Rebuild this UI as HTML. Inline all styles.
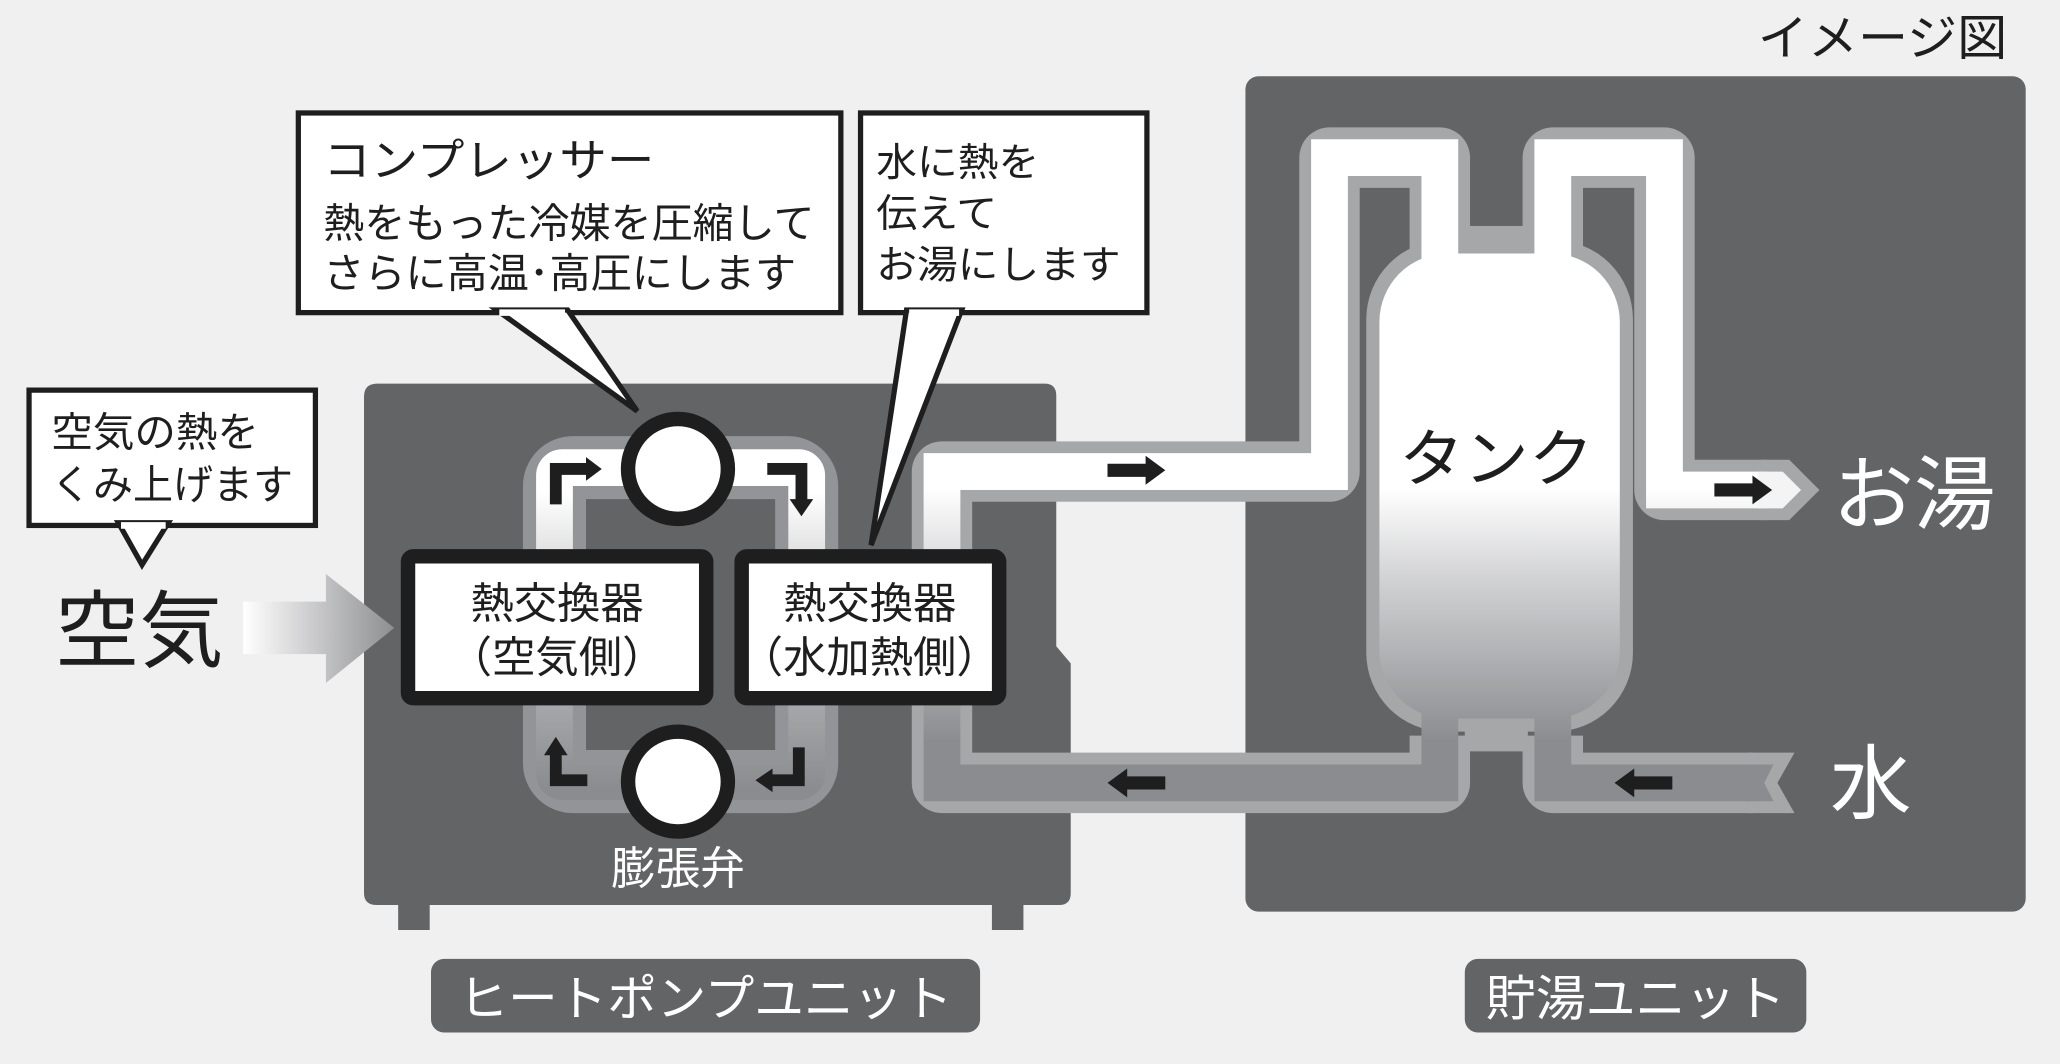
<!DOCTYPE html>
<html><head><meta charset="utf-8"><style>
html,body{margin:0;padding:0;background:#f0f0f0;}
svg{display:block}
text{font-family:"Liberation Sans","Noto Sans CJK JP",sans-serif;}
</style></head><body>
<svg width="2060" height="1064" viewBox="0 0 1568 810" xmlns="http://www.w3.org/2000/svg">
<defs>
<linearGradient id="g" gradientUnits="userSpaceOnUse" x1="0" y1="372" x2="0" y2="565">
<stop offset="0" stop-color="#ffffff"/><stop offset="0.35" stop-color="#d2d3d5"/><stop offset="1" stop-color="#8b8c8f"/></linearGradient>
<linearGradient id="g2" gradientUnits="userSpaceOnUse" x1="0" y1="375" x2="0" y2="600">
<stop offset="0" stop-color="#ffffff"/><stop offset="0.4" stop-color="#c4c5c7"/><stop offset="1" stop-color="#8b8c8f"/></linearGradient>
<linearGradient id="ga" x1="0" y1="0" x2="1" y2="0">
<stop offset="0" stop-color="#ffffff"/><stop offset="1" stop-color="#8e8f92"/></linearGradient>
</defs>
<rect width="1568" height="810" fill="#f0f0f0"/>

<rect x="948" y="58" width="594" height="636" rx="10" fill="#636466"/>
<rect x="303" y="680" width="24" height="28" fill="#636466"/>
<rect x="755" y="680" width="24" height="28" fill="#636466"/>
<path d="M287 292 H795 Q804 292 804 301 V492 L815 505 V680 Q815 689 806 689 H287 Q277 689 277 680 V302 Q277 292 287 292 Z" fill="#636466"/>

<rect x="422" y="356" width="192" height="239" rx="14" fill="none" stroke="#939497" stroke-width="48"/>
<rect x="422" y="356" width="192" height="239" rx="6" fill="none" stroke="url(#g2)" stroke-width="28"/>

<g fill="none" stroke="#a6a7a9" stroke-width="46" stroke-linejoin="round">
<path d="M1096 560 L1096 596 L717 596 L717 359 L1012 359 L1012 120 L1096 120 L1096 200"/>
<path d="M1182 200 L1182 120 L1267 120 L1267 373 L1345 373"/>
<path d="M1182 560 L1182 596 L1335 596"/>
</g>
<polygon points="1340,350 1362,350 1385,373 1362,396 1340,396" fill="#a6a7a9"/>
<polygon points="1330,573 1366,573 1353,596 1366,619 1330,619" fill="#a6a7a9"/>
<rect x="1115" y="172" width="48" height="28" fill="#a6a7a9"/>
<rect x="1115" y="545" width="48" height="27" fill="#a6a7a9"/>
<rect x="1040" y="183" width="203" height="374" rx="60" fill="#a6a7a9"/>
<g fill="none" stroke="url(#g)" stroke-width="28" stroke-linejoin="miter">
<path d="M1096 530 L1096 596 L717 596 L717 359 L1012 359 L1012 120 L1096 120 L1096 240"/>
<path d="M1182 240 L1182 120 L1267 120 L1267 373 L1345 373"/>
<path d="M1182 530 L1182 596 L1335 596"/>
</g>
<rect x="1050" y="193" width="183" height="354" rx="52" fill="url(#g)"/>
<polygon points="1338,359 1357,359 1371,373 1357,387 1338,387" fill="#f4f4f4"/>
<polygon points="1330,582 1350,582 1343,596 1350,610 1330,610" fill="#8b8c8f"/>

<g fill="#1e1e1e">
<polygon points="843,353 872,353 872,347 887,358 872,369 872,363 843,363"/>
<polygon points="1305,368 1334,368 1334,362 1349,373 1334,384 1334,378 1305,378"/>
<polygon points="887,591 858,591 858,585 843,596 858,607 858,601 887,601"/>
<polygon points="1273,591 1244,591 1244,585 1229,596 1244,607 1244,601 1273,601"/>
</g>
<g fill="none" stroke="#1e1e1e" stroke-width="9">
<path d="M423 384 V357 H447"/>
<path d="M584 357 H610 V381"/>
<path d="M447 594 H423 V573"/>
<path d="M608 569 V594 H586"/>
</g>
<g fill="#1e1e1e">
<polygon points="446,348 458,357 446,366"/>
<polygon points="601,380 619,380 610,393"/>
<polygon points="414,575 432,575 423,561"/>
<polygon points="588,585 588,603 575,594"/>
</g>

<ellipse cx="516" cy="357" rx="38" ry="38" fill="#fff" stroke="#1e1e1e" stroke-width="11"/>
<ellipse cx="516" cy="595" rx="38" ry="38" fill="#fff" stroke="#1e1e1e" stroke-width="11"/>
<text x="516" y="673" font-size="34" fill="#fff" text-anchor="middle">膨張弁</text>

<rect x="310.5" y="423.5" width="227" height="108" rx="4" fill="#fff" stroke="#1e1e1e" stroke-width="11"/>
<rect x="564.5" y="423.5" width="196" height="108" rx="4" fill="#fff" stroke="#1e1e1e" stroke-width="11"/>
<text x="424" y="471" font-size="33" text-anchor="middle" fill="#1e1e1e">熱交換器</text>
<text x="424" y="512" font-size="33" text-anchor="middle" fill="#1e1e1e">（空気側）</text>
<text x="662" y="471" font-size="33" text-anchor="middle" fill="#1e1e1e">熱交換器</text>
<text x="662" y="512" font-size="33" text-anchor="middle" fill="#1e1e1e">（水加熱側）</text>

<polygon points="185,458 248,458 248,437 300,478 248,520 248,498 185,498" fill="url(#ga)"/>
<text x="42" y="503" font-size="64" fill="#1e1e1e">空気</text>

<g fill="#fff" stroke="#1e1e1e" stroke-width="4" stroke-linejoin="miter">
<rect x="227" y="86" width="413" height="152"/>
<rect x="655" y="86" width="218" height="152"/>
<rect x="22" y="297" width="218" height="103"/>
</g>
<polygon points="378,236 485,313 432,236" fill="#fff" stroke="#1e1e1e" stroke-width="4"/>
<line x1="380" y1="238" x2="430" y2="238" stroke="#fff" stroke-width="5"/>
<polygon points="690,236 663,415 732,236" fill="#fff" stroke="#1e1e1e" stroke-width="4"/>
<line x1="692" y1="238" x2="730" y2="238" stroke="#fff" stroke-width="5"/>
<polygon points="90,398 108,430 128,398" fill="#fff" stroke="#1e1e1e" stroke-width="4"/>
<line x1="92" y1="400" x2="126" y2="400" stroke="#fff" stroke-width="5"/>

<g fill="#1e1e1e">
<text x="246" y="134" font-size="34" textLength="252" lengthAdjust="spacingAndGlyphs">コンプレッサー</text>
<text x="246" y="181" font-size="31" textLength="374" lengthAdjust="spacingAndGlyphs">熱をもった冷媒を圧縮して</text>
<text x="246" y="219" font-size="31" textLength="360" lengthAdjust="spacingAndGlyphs">さらに高温･高圧にします</text>
<text x="667" y="134" font-size="30" textLength="124" lengthAdjust="spacingAndGlyphs">水に熱を</text>
<text x="667" y="173" font-size="30" textLength="92" lengthAdjust="spacingAndGlyphs">伝えて</text>
<text x="667" y="212" font-size="30" textLength="186" lengthAdjust="spacingAndGlyphs">お湯にします</text>
<text x="39" y="340" font-size="31" textLength="158" lengthAdjust="spacingAndGlyphs">空気の熱を</text>
<text x="39" y="380" font-size="31" textLength="184" lengthAdjust="spacingAndGlyphs">くみ上げます</text>
<text x="1065" y="366" font-size="48" textLength="148" lengthAdjust="spacingAndGlyphs">タンク</text>
<text x="1338" y="42" font-size="37" textLength="190" lengthAdjust="spacingAndGlyphs">イメージ図</text>
</g>
<text x="1395" y="398" font-size="62" fill="#fff">お湯</text>
<text x="1393" y="618" font-size="62" fill="#fff">水</text>

<rect x="328" y="730" width="418" height="56" rx="10" fill="#636466"/>
<text x="537" y="773" font-size="37" fill="#fff" text-anchor="middle" textLength="376" lengthAdjust="spacingAndGlyphs">ヒートポンプユニット</text>
<rect x="1115" y="730" width="260" height="56" rx="10" fill="#636466"/>
<text x="1245" y="773" font-size="37" fill="#fff" text-anchor="middle" textLength="228" lengthAdjust="spacingAndGlyphs">貯湯ユニット</text>
</svg>
</body></html>
